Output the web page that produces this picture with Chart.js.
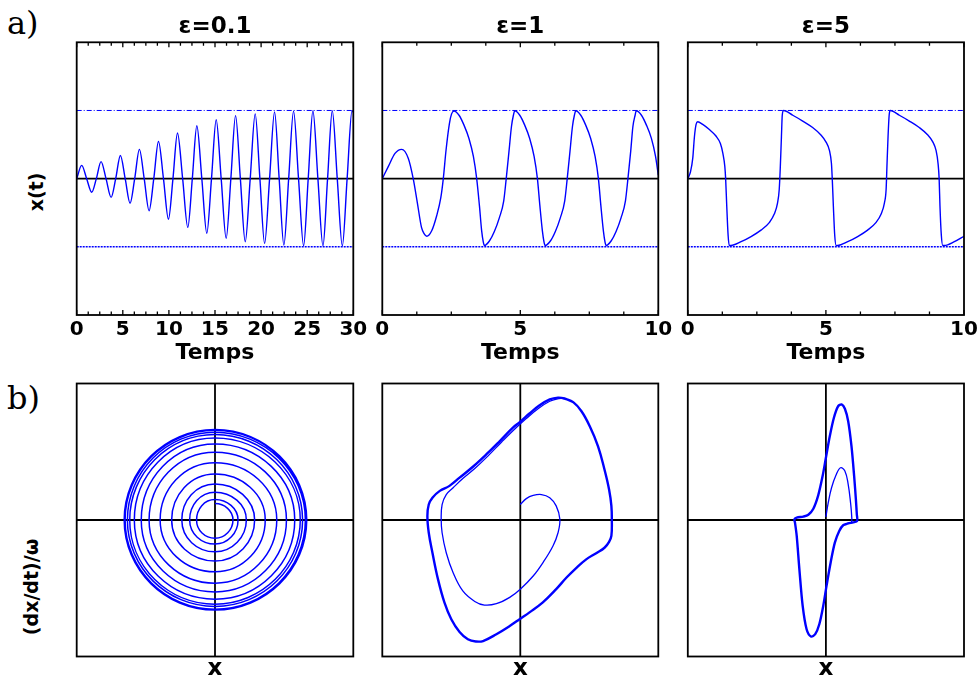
<!DOCTYPE html>
<html>
<head>
<meta charset="utf-8">
<script src="https://cdn.jsdelivr.net/npm/chart.js@4.4.1/dist/chart.umd.min.js"></script>
<style>
    html, body { margin: 0; padding: 0; background: #fff; overflow: hidden; }
    body { width: 978px; height: 681px; position: relative; }
    canvas { position: absolute; }
    .lbl { position: absolute; color: #000; white-space: nowrap; line-height: 1; }
    .part { font-family: "DejaVu Serif", serif; font-size: 32px; }
    .ylab { font-family: "DejaVu Sans", sans-serif; font-weight: bold; font-size: 19px;
            transform: translate(-50%, -50%) rotate(-90deg); }
</style>
</head>
<body>
<div class="lbl part" style="left:7px; top:7px;">a)</div>
<div class="lbl part" style="left:7px; top:382px;">b)</div>
<div class="lbl ylab" style="left:36px; top:192px;">x(t)</div>
<div class="lbl ylab" style="left:31px; top:587px;">(dx/dt)/ω</div>
<canvas id="a1"></canvas>
<canvas id="a2"></canvas>
<canvas id="a3"></canvas>
<canvas id="b1"></canvas>
<canvas id="b2"></canvas>
<canvas id="b3"></canvas>
<script>
// Van der Pol figure: x(t) (top row) and phase portraits (bottom row)

// Panel labels and ranges
const PANEL_TITLES = ['ε=0.1', 'ε=1', 'ε=5'];
const TIME_MAX = [30, 10, 10];
const TIME_Y_RANGE = [-4, 4];
const LIMIT_LEVELS = [2, -2];
const PHASE_RANGE = [3, 3, 8.8];

// eps = 0.1, x(t)
const T_EPS01 = [0, 0.54, 1.08, 1.63, 2.13, 2.64, 3.18, 3.73, 4.23, 4.74, 5.26, 5.79, 6.29, 6.80,
    7.32, 7.85, 8.36, 8.87, 9.41, 9.95, 10.44, 10.93, 11.49, 12.05, 12.54, 13.03, 13.57, 14.11,
    14.62, 15.13, 15.67, 16.21, 16.72, 17.23, 17.75, 18.28, 18.82, 19.36, 19.87, 20.38, 20.92,
    21.46, 21.96, 22.47, 22.99, 23.52, 24.06, 24.61, 25.11, 25.62, 26.16, 26.71, 27.21, 27.72,
    28.26, 28.81, 29.33, 29.86, 30];
const X_EPS01 = [0, 0.39, 0, -0.40, 0, 0.50, 0, -0.55, 0, 0.68, 0, -0.72, 0, 0.86,
    0, -0.94, 0, 1.09, 0, -1.19, 0, 1.34, 0, -1.43, 0, 1.55, 0, -1.60,
    0, 1.73, 0, -1.75, 0, 1.85, 0, -1.85, 0, 1.90, 0, -1.90, 0,
    1.96, 0, -1.95, 0, 1.98, 0, -1.97, 0, 1.99, 0, -1.97, 0, 1.99,
    0, -1.97, 0, 1.99, 1.95];

// eps = 1, x(t)
const T_EPS1 = [0, 0.22, 0.46, 0.70, 0.94, 1.12, 1.27, 1.42, 1.52, 1.61, 1.79, 1.97, 2.12, 2.21, 2.31, 2.43, 2.51, 2.60,
    2.78, 2.96, 3.14, 3.30, 3.42, 3.52, 3.60, 3.66, 3.70,
    3.88, 4.06, 4.24, 4.40, 4.49, 4.59, 4.68, 4.75, 4.80,
    4.98, 5.16, 5.34, 5.50, 5.62, 5.71, 5.80, 5.86, 5.90,
    6.09, 6.27, 6.45, 6.61, 6.70, 6.80, 6.89, 6.96, 7.01,
    7.19, 7.37, 7.55, 7.71, 7.83, 7.92, 8.01, 8.07, 8.11,
    8.29, 8.47, 8.65, 8.81, 8.90, 9.00, 9.08, 9.16, 9.20,
    9.39, 9.57, 9.75, 9.90, 10];
const X_EPS1 = [0, 0.36, 0.74, 0.86, 0.60, 0, -0.71, -1.43, -1.62, -1.69, -1.53, -1.09, -0.56, 0, 0.84, 1.61, 1.90, 1.98,
    1.86, 1.57, 1.18, 0.65, 0, -0.80, -1.53, -1.86, -1.96,
    -1.83, -1.55, -1.15, -0.65, 0, 0.80, 1.53, 1.86, 1.99,
    1.86, 1.57, 1.18, 0.65, 0, -0.80, -1.53, -1.86, -1.96,
    -1.83, -1.55, -1.15, -0.65, 0, 0.80, 1.53, 1.86, 1.99,
    1.86, 1.57, 1.18, 0.65, 0, -0.80, -1.53, -1.86, -1.96,
    -1.83, -1.55, -1.15, -0.65, 0, 0.80, 1.53, 1.86, 1.99,
    1.86, 1.57, 1.18, 0.65, 0.10];

// eps = 5, x(t)
const T_EPS5 = [0, 0.10, 0.18, 0.24, 0.30, 0.36, 0.54, 0.78, 1.02, 1.18, 1.27, 1.34, 1.37, 1.41, 1.46, 1.50,
    1.56, 1.93, 2.29, 2.65, 2.95, 3.13, 3.25, 3.31, 3.35, 3.39, 3.42, 3.47,
    3.80, 4.16, 4.52, 4.82, 5.00, 5.13, 5.20, 5.23, 5.27, 5.32, 5.37,
    5.43, 5.79, 6.15, 6.51, 6.81, 7.00, 7.12, 7.18, 7.21, 7.25, 7.29, 7.33,
    7.66, 8.02, 8.38, 8.69, 8.87, 8.99, 9.06, 9.10, 9.13, 9.18, 9.23,
    9.29, 9.65, 10];
const X_EPS5 = [0, 0.21, 0.60, 1.23, 1.59, 1.67, 1.59, 1.44, 1.25, 1.03, 0.74, 0.36, 0, -0.80, -1.67, -1.96,
    -1.96, -1.85, -1.70, -1.51, -1.29, -1.04, -0.71, -0.32, 0.36, 1.23, 1.86, 2.0,
    1.86, 1.69, 1.50, 1.28, 1.08, 0.82, 0.45, 0, -0.80, -1.67, -1.96,
    -1.96, -1.85, -1.70, -1.51, -1.29, -1.04, -0.71, -0.32, 0.36, 1.23, 1.86, 2.0,
    1.86, 1.69, 1.50, 1.28, 1.08, 0.82, 0.45, 0, -0.80, -1.67, -1.96,
    -1.96, -1.85, -1.69];

// eps = 0.1, phase plane, one turn per line (top, right, bottom, left);
// the first and last points only steer the curve ends and are not stroked
const PX_EPS01 = [-0.34,
    0, 0.39, 0, -0.40,
    0, 0.50, 0, -0.55,
    0, 0.68, 0, -0.72,
    0, 0.86, 0, -0.94,
    0, 1.09, 0, -1.19,
    0, 1.34, 0, -1.43,
    0, 1.55, 0, -1.60,
    0, 1.73, 0, -1.75,
    0, 1.85, 0, -1.85,
    0, 1.90, 0, -1.90,
    0, 1.96, 0, -1.95,
    0, 1.98, 0, -1.97,
    0, 1.99, 0, -1.97,
    0, 1.99, 0, -1.97,
    0, 1.99, 0];
const PY_EPS01 = [0,
    0.36, 0, -0.40, 0,
    0.45, 0, -0.53, 0,
    0.61, 0, -0.70, 0,
    0.79, 0, -0.90, 0,
    1.01, 0, -1.14, 0,
    1.26, 0, -1.39, 0,
    1.49, 0, -1.58, 0,
    1.67, 0, -1.74, 0,
    1.80, 0, -1.85, 0,
    1.88, 0, -1.90, 0,
    1.93, 0, -1.96, 0,
    1.97, 0, -1.98, 0,
    1.98, 0, -1.98, 0,
    1.99, 0, -1.98, 0,
    1.99, 0, -1.98];

// eps = 1, phase plane: transient, then limit cycle
const PX_EPS1_IN = [0, 0.13, 0.28, 0.46, 0.64, 0.78, 0.86, 0.82, 0.71, 0.49, 0.28, 0, -0.23, -0.52, -0.78,
    -0.99, -1.25, -1.46, -1.61, -1.70, -1.72, -1.70, -1.61, -1.46, -1.25, -0.99, -0.70, -0.41, -0.12,
    0.13, 0.38, 0.64, 0.84, 0.96];
const PY_EPS1_IN = [0.34, 0.47, 0.54, 0.56, 0.49, 0.31, 0.02, -0.28, -0.57, -0.94, -1.23, -1.52, -1.70, -1.84, -1.87,
    -1.79, -1.56, -1.16, -0.72, -0.28, 0.02, 0.34, 0.56, 0.71, 0.91, 1.13, 1.41, 1.71, 2.00,
    2.23, 2.44, 2.61, 2.67, 2.67];
const PX_EPS1_LC = [0.96, 1.15, 1.33, 1.51, 1.69, 1.83, 1.93, 1.98, 1.99, 1.98, 1.93, 1.83, 1.65, 1.44, 1.22, 1.00,
    0.78, 0.49, 0.20, 0, -0.23, -0.52, -0.81, -0.96, -1.14, -1.32, -1.50, -1.65, -1.79, -1.91, -1.99, -2.02,
    -1.99, -1.91, -1.75, -1.54, -1.32, -1.03, -0.74, -0.45, -0.16, 0, 0.20, 0.42, 0.64, 0.82, 0.96, 1.15];
const PY_EPS1_LC = [2.67, 2.59, 2.39, 2.06, 1.62, 1.11, 0.67, 0.31, -0.02, -0.35, -0.48, -0.61, -0.73, -0.86, -1.05, -1.27,
    -1.52, -1.81, -2.03, -2.17, -2.33, -2.51, -2.66, -2.67, -2.62, -2.46, -2.18, -1.81, -1.30, -0.72, -0.28, 0.09,
    0.34, 0.49, 0.64, 0.75, 0.93, 1.17, 1.44, 1.73, 2.03, 2.16, 2.34, 2.52, 2.65, 2.69, 2.67, 2.59];

// eps = 5, phase plane: transient, then limit cycle
const PX_EPS5_IN = [0, 0.15, 0.36, 0.64, 0.93, 1.21, 1.42, 1.57, 1.65, 1.62, 1.42];
const PY_EPS5_IN = [0.20, 1.12, 2.08, 2.88, 3.37, 3.16, 2.30, 1.12, 0.15, -0.15, -0.22];
const PX_EPS5_LC = [1.42, 1.10, 0.85, 0.57, 0.30, 0.04, -0.17, -0.42, -0.68, -0.95, -1.23, -1.48, -1.69,
    -1.86, -1.97, -2.01, -1.86, -1.44, -1.12, -0.80, -0.49, -0.21, 0, 0.25, 0.51, 0.78, 1.00, 1.21,
    1.42, 1.63, 1.80, 1.91, 1.97, 1.99, 1.74, 1.42, 1.10];
const PY_EPS5_LC = [-0.22, -0.34, -0.71, -1.46, -2.75, -4.25, -5.54, -6.72, -7.36, -7.51, -7.04, -5.54, -3.18,
    -1.03, -0.17, 0.04, 0.15, 0.22, 0.34, 0.73, 1.59, 2.83, 4.01, 5.41, 6.59, 7.34, 7.45, 7.17,
    6.37, 4.76, 2.83, 1.33, 0.37, -0.06, -0.15, -0.22, -0.34];

const COLORS = {
    curve: '#0000FF',
    axis: '#000000',
    hidden: 'rgba(0, 0, 0, 0)'
};

Chart.defaults.font.family = '"DejaVu Sans", sans-serif';
Chart.defaults.color = '#000000';

function toPoints(xs, ys) {
    return xs.map((x, i) => ({ x: x, y: ys[i] }));
}

function lineSet(data, color, width, extra = {}) {
    return Object.assign({
        data: data,
        showLine: true,
        borderColor: color,
        borderWidth: width,
        borderJoinStyle: 'round',
        pointRadius: 0,
        pointHoverRadius: 0,
        fill: false
    }, extra);
}

// box around the plot area, plus inward ticks on top/bottom for time panels
const framePlugin = {
    id: 'frame',
    afterDatasetsDraw(chart, args, opts) {
        const { ctx, chartArea: a } = chart;
        ctx.save();
        ctx.strokeStyle = COLORS.axis;
        if (opts.ticks) {
            const xs = chart.scales.x;
            ctx.lineWidth = 1.3;
            ctx.beginPath();
            xs.ticks.forEach(t => {
                const px = xs.getPixelForValue(t.value);
                const len = t.value % 5 === 0 ? 5 : 3.5;
                ctx.moveTo(px, a.bottom);
                ctx.lineTo(px, a.bottom - len);
                ctx.moveTo(px, a.top);
                ctx.lineTo(px, a.top + len);
            });
            ctx.stroke();
        }
        ctx.lineWidth = 1.8;
        ctx.strokeRect(a.left, a.top, a.width, a.height);
        ctx.restore();
    }
};

function place(id, left, top, w, h) {
    const c = document.getElementById(id);
    c.width = w;
    c.height = h;
    c.style.left = left + 'px';
    c.style.top = top + 'px';
    c.style.width = w + 'px';
    c.style.height = h + 'px';
    return c;
}

function createTimePanel(id, left, width, padLeft, padRight, i, ts, xs) {
    const canvas = place(id, left, 0, width, 380);
    const tMax = TIME_MAX[i];
    return new Chart(canvas, {
        type: 'scatter',
        data: {
            datasets: [
                lineSet(toPoints(ts, xs), COLORS.curve, 1.4, { cubicInterpolationMode: 'monotone' }),
                lineSet(toPoints([0, tMax], [0, 0]), COLORS.axis, 1.8),
                lineSet(toPoints([0, tMax], [LIMIT_LEVELS[0], LIMIT_LEVELS[0]]), COLORS.curve, 1, { borderDash: [5, 2, 1, 2] }),
                lineSet(toPoints([0, tMax], [LIMIT_LEVELS[1], LIMIT_LEVELS[1]]), COLORS.curve, 1.5, { borderDash: [2, 1] })
            ]
        },
        options: {
            responsive: false,
            animation: false,
            devicePixelRatio: 1,
            layout: { padding: { left: padLeft, right: padRight, top: 0, bottom: 0 } },
            plugins: {
                legend: { display: false },
                tooltip: { enabled: false },
                title: {
                    display: true,
                    text: PANEL_TITLES[i],
                    fullSize: false,
                    color: '#000',
                    font: { size: 23, weight: 'bold', lineHeight: 1.2 },
                    padding: { top: 13.6, bottom: 1.1 }
                },
                frame: { ticks: true }
            },
            scales: {
                x: {
                    type: 'linear',
                    min: 0,
                    max: tMax,
                    afterFit: s => { s.height = 65; },
                    grid: { display: false, drawTicks: false },
                    border: { display: false },
                    ticks: {
                        stepSize: 1.25,
                        autoSkip: false,
                        maxRotation: 0,
                        padding: 0,
                        color: '#000',
                        font: { size: 20, weight: 'bold', lineHeight: 1.5 },
                        callback: v => (v % 5 === 0 ? String(v) : '')
                    },
                    title: {
                        display: true,
                        text: 'Temps',
                        color: '#000',
                        font: { size: 22, weight: 'bold', lineHeight: 1.2 },
                        padding: { top: 0, bottom: 13.8 }
                    }
                },
                y: { type: 'linear', min: TIME_Y_RANGE[0], max: TIME_Y_RANGE[1], display: false }
            }
        },
        plugins: [framePlugin]
    });
}

function createPhasePanel(id, left, width, padLeft, padRight, i, curves) {
    const canvas = place(id, left, 378, width, 303);
    const r = PHASE_RANGE[i];
    const datasets = curves.concat([
        lineSet(toPoints([-r, r], [0, 0]), COLORS.axis, 1.8),
        lineSet(toPoints([0, 0], [-r, r]), COLORS.axis, 1.8)
    ]);
    return new Chart(canvas, {
        type: 'scatter',
        data: { datasets: datasets },
        options: {
            responsive: false,
            animation: false,
            devicePixelRatio: 1,
            layout: { padding: { left: padLeft, right: padRight, top: 5.5, bottom: 0 } },
            plugins: {
                legend: { display: false },
                tooltip: { enabled: false },
                frame: { ticks: false }
            },
            scales: {
                x: {
                    type: 'linear',
                    min: -r,
                    max: r,
                    afterFit: s => { s.height = 24.5; },
                    grid: { display: false, drawTicks: false },
                    border: { display: false },
                    ticks: { display: false },
                    title: {
                        display: true,
                        text: 'x',
                        color: '#000',
                        font: { size: 23, weight: 'bold', lineHeight: 1 },
                        padding: { top: 0, bottom: 0 }
                    }
                },
                y: { type: 'linear', min: -r, max: r, display: false }
            }
        },
        plugins: [framePlugin]
    });
}

// top row
createTimePanel('a1', 56, 312, 20.7, 14.7, 0, T_EPS01, X_EPS01);
createTimePanel('a2', 368, 305, 14.3, 14.7, 1, T_EPS1, X_EPS1);
createTimePanel('a3', 673, 320, 14.8, 29, 2, T_EPS5, X_EPS5);

// bottom row
const lastSpiral = PX_EPS01.length - 1;
createPhasePanel('b1', 56, 312, 20.7, 14.7, 0, [
    lineSet(toPoints(PX_EPS01, PY_EPS01), COLORS.curve, 1.5, {
        tension: 0.55,
        segment: {
            borderColor: c => (c.p0DataIndex === 0 || c.p1DataIndex === lastSpiral ? COLORS.hidden : undefined)
        }
    })
]);
createPhasePanel('b2', 368, 305, 14.3, 14.7, 1, [
    lineSet(toPoints(PX_EPS1_LC, PY_EPS1_LC), COLORS.curve, 2.4, { tension: 0.4 }),
    lineSet(toPoints(PX_EPS1_IN, PY_EPS1_IN), COLORS.curve, 1.3, { tension: 0.4 })
]);
createPhasePanel('b3', 673, 320, 14.8, 29, 2, [
    lineSet(toPoints(PX_EPS5_LC, PY_EPS5_LC), COLORS.curve, 2.4, { tension: 0.3 }),
    lineSet(toPoints(PX_EPS5_IN, PY_EPS5_IN), COLORS.curve, 1.3, { tension: 0.4 })
]);
</script>
</body>
</html>
